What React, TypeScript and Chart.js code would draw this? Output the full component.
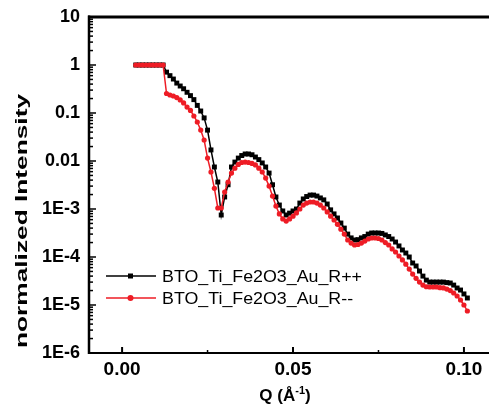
import React, { useEffect, useRef } from 'react';
import { Chart, registerables } from 'chart.js';

Chart.register(...registerables);

const qValues = [
  0.004, 0.005, 0.006, 0.007, 0.008, 0.009, 0.010, 0.011, 0.012, 0.013,
  0.014, 0.015, 0.016, 0.017, 0.018, 0.019, 0.020, 0.021, 0.022, 0.023,
  0.024, 0.025, 0.026, 0.027, 0.028, 0.029, 0.030, 0.031, 0.032, 0.033,
  0.034, 0.035, 0.036, 0.037, 0.038, 0.039, 0.040, 0.041, 0.042, 0.043,
  0.044, 0.045, 0.046, 0.047, 0.048, 0.049, 0.050, 0.051, 0.052, 0.053,
  0.054, 0.055, 0.056, 0.057, 0.058, 0.059, 0.060, 0.061, 0.062, 0.063,
  0.064, 0.065, 0.066, 0.067, 0.068, 0.069, 0.070, 0.071, 0.072, 0.073,
  0.074, 0.075, 0.076, 0.077, 0.078, 0.079, 0.080, 0.081, 0.082, 0.083,
  0.084, 0.085, 0.086, 0.087, 0.088, 0.089, 0.090, 0.091, 0.092, 0.093,
  0.094, 0.095, 0.096, 0.097, 0.098, 0.099, 0.100, 0.101,
];

const intensityRpp = [
  1, 1, 1, 1, 1, 1, 1, 1, 1, 0.71,
  0.60, 0.51, 0.42, 0.365, 0.32, 0.27, 0.23, 0.19, 0.144, 0.11,
  0.079, 0.044, 0.017, 0.0075, 0.00365, 0.00075, 0.00178, 0.0032, 0.0075, 0.0095,
  0.0115, 0.013, 0.014, 0.014, 0.0135, 0.0121, 0.0107, 0.0091, 0.0075, 0.0056,
  0.0032, 0.00178, 0.00121, 0.00091, 0.00075, 0.00082, 0.00091, 0.001, 0.00133, 0.00162,
  0.00182, 0.00195, 0.00195, 0.00186, 0.0017, 0.00155, 0.00127, 0.00096, 0.00079, 0.00065,
  0.00051, 0.0004, 0.0003, 0.00025, 0.000226, 0.00023, 0.00025, 0.000267, 0.0003, 0.000316,
  0.000316, 0.000316, 0.00031, 0.000288, 0.000267, 0.000237, 0.000205, 0.00017, 0.00014, 0.000121,
  0.0001, 7.5e-5, 6.5e-5, 5.1e-5, 4.0e-5, 3.3e-5, 3.0e-5, 3.0e-5, 3.0e-5, 3.0e-5,
  3.0e-5, 2.93e-5, 2.87e-5, 2.6e-5, 2.26e-5, 2.05e-5, 1.7e-5, 1.4e-5,
];

const intensityRmm = [
  1, 1, 1, 1, 1, 1, 1, 1, 1, 0.255,
  0.237, 0.226, 0.21, 0.187, 0.162, 0.133, 0.113, 0.0866, 0.065, 0.044,
  0.0274, 0.0115, 0.0059, 0.0027, 0.00105, 0.00105, 0.00226, 0.00365, 0.0056, 0.0071,
  0.0085, 0.0093, 0.0095, 0.0093, 0.0089, 0.0083, 0.0071, 0.0059, 0.0044, 0.003,
  0.00186, 0.00115, 0.00079, 0.00062, 0.00056, 0.00062, 0.00071, 0.00083, 0.001, 0.00121,
  0.00133, 0.0014, 0.0014, 0.00133, 0.00121, 0.00105, 0.00087, 0.00071, 0.00059, 0.00048,
  0.00038, 0.0003, 0.000226, 0.000195, 0.000178, 0.000182, 0.000195, 0.000215, 0.000237, 0.000249,
  0.000249, 0.000243, 0.000226, 0.0002, 0.000178, 0.000147, 0.000127, 0.000105, 8.7e-5, 7.1e-5,
  5.6e-5, 4.4e-5, 3.6e-5, 3.0e-5, 2.6e-5, 2.4e-5, 2.37e-5, 2.37e-5, 2.37e-5, 2.3e-5,
  2.27e-5, 2.15e-5, 2.0e-5, 1.78e-5, 1.54e-5, 1.27e-5, 1.0e-5, 7.5e-6,
];

const seriesNames = ['BTO_Ti_Fe2O3_Au_R++', 'BTO_Ti_Fe2O3_Au_R--'];
const seriesColors = ['#000000', '#ee1c25'];

const yTickValues = [1e-6, 1e-5, 1e-4, 1e-3, 0.01, 0.1, 1, 10];
const yTickLabels = ['1E-6', '1E-5', '1E-4', '1E-3', '0.01', '0.1', '1', '10'];
const xTickValues = [0, 0.05, 0.1];
const xTickLabels = ['0.00', '0.05', '0.10'];
const xMinorTicks = [0.025, 0.075];
const yAxisTitle = 'normalized Intensity';
const xAxisTitleMain = 'Q (Å';
const xAxisTitleSup = '-1';
const xAxisTitleEnd = ')';

const FONT = '"Liberation Sans", Arial, sans-serif';

const decorPlugin = {
  id: 'decor',
  afterDraw(chart: any) {
    const { ctx, chartArea } = chart;
    const xs = chart.scales.x;
    const ys = chart.scales.y;
    const { left, top, bottom } = chartArea;
    const fullRight = chart.width;
    ctx.save();
    ctx.strokeStyle = '#000';
    ctx.fillStyle = '#000';

    // frame: left, bottom, top
    ctx.lineWidth = 2.5;
    ctx.beginPath();
    ctx.moveTo(left, top - 1.5);
    ctx.lineTo(left, bottom + 1);
    ctx.stroke();
    ctx.lineWidth = 2;
    ctx.beginPath();
    ctx.moveTo(left - 1, bottom);
    ctx.lineTo(fullRight, bottom);
    ctx.stroke();
    ctx.lineWidth = 3;
    ctx.beginPath();
    ctx.moveTo(left - 1, top);
    ctx.lineTo(fullRight, top);
    ctx.stroke();

    // y ticks (inside)
    ctx.lineWidth = 1.5;
    for (let e = -6; e <= 1; e++) {
      for (let k = 1; k <= 9; k++) {
        const v = k * Math.pow(10, e);
        if (v > 10.0001) break;
        const p = ys.getPixelForValue(v);
        const len = k === 1 ? 7 : 4;
        ctx.beginPath();
        ctx.moveTo(left, p);
        ctx.lineTo(left + len, p);
        ctx.stroke();
      }
    }
    // x ticks (inside)
    ctx.lineWidth = 2;
    xTickValues.forEach((v) => {
      const p = xs.getPixelForValue(v);
      ctx.beginPath();
      ctx.moveTo(p, bottom);
      ctx.lineTo(p, bottom - 6);
      ctx.stroke();
    });
    ctx.lineWidth = 1.5;
    xMinorTicks.forEach((v) => {
      const p = xs.getPixelForValue(v);
      ctx.beginPath();
      ctx.moveTo(p, bottom);
      ctx.lineTo(p, bottom - 3);
      ctx.stroke();
    });

    // y axis title (stretched)
    ctx.save();
    ctx.font = `bold 17px ${FONT}`;
    const w = ctx.measureText(yAxisTitle).width;
    const sx = 254 / w;
    ctx.translate(22, 221);
    ctx.rotate(-Math.PI / 2);
    ctx.scale(sx, 1);
    ctx.textAlign = 'center';
    ctx.textBaseline = 'middle';
    ctx.fillText(yAxisTitle, 0, 0);
    ctx.restore();

    // x axis title with superscript
    ctx.save();
    ctx.textBaseline = 'alphabetic';
    ctx.textAlign = 'left';
    const mainFont = `bold 17px ${FONT}`;
    const supFont = `bold 11px ${FONT}`;
    ctx.font = mainFont;
    const w1 = ctx.measureText(xAxisTitleMain).width;
    const w3 = ctx.measureText(xAxisTitleEnd).width;
    ctx.font = supFont;
    const w2 = ctx.measureText(xAxisTitleSup).width;
    const total = w1 + w2 + w3;
    let cx = 285 - total / 2;
    const base = 401;
    ctx.font = mainFont;
    ctx.fillText(xAxisTitleMain, cx, base);
    cx += w1;
    ctx.font = supFont;
    ctx.fillText(xAxisTitleSup, cx, base - 7);
    cx += w2;
    ctx.font = mainFont;
    ctx.fillText(xAxisTitleEnd, cx, base);
    ctx.restore();

    // legend
    const legendY = [276, 298];
    chart.data.datasets.forEach((ds: any, i: number) => {
      const y = legendY[i];
      ctx.strokeStyle = ds.borderColor;
      ctx.fillStyle = ds.borderColor;
      ctx.lineWidth = 1.5;
      ctx.beginPath();
      ctx.moveTo(106, y);
      ctx.lineTo(156, y);
      ctx.stroke();
      if (ds.pointStyle === 'rect') {
        ctx.fillRect(128, y - 2.5, 5, 5);
      } else {
        ctx.beginPath();
        ctx.arc(130.5, y, 3, 0, Math.PI * 2);
        ctx.fill();
      }
      ctx.save();
      ctx.fillStyle = '#000';
      ctx.font = `17px ${FONT}`;
      ctx.textAlign = 'left';
      ctx.textBaseline = 'middle';
      const tw = ctx.measureText(seriesNames[0]).width;
      const s = 200 / tw;
      ctx.translate(162, y + 1);
      ctx.scale(s, 1);
      ctx.fillText(ds.label, 0, 0);
      ctx.restore();
    });

    ctx.restore();
  },
};

export default function App() {
  const canvasRef = useRef<HTMLCanvasElement | null>(null);

  useEffect(() => {
    const canvas = canvasRef.current;
    if (!canvas) return;
    const chart = new Chart(canvas, {
      type: 'line',
      data: {
        datasets: [
          {
            label: seriesNames[0],
            data: qValues.map((q, i) => ({ x: q, y: intensityRpp[i] })),
            borderColor: seriesColors[0],
            backgroundColor: seriesColors[0],
            pointBackgroundColor: seriesColors[0],
            pointBorderWidth: 0,
            pointStyle: 'rect',
            pointRadius: 3.5,
            borderWidth: 1.5,
            tension: 0,
            order: 1,
          },
          {
            label: seriesNames[1],
            data: qValues.map((q, i) => ({ x: q, y: intensityRmm[i] })),
            borderColor: seriesColors[1],
            backgroundColor: seriesColors[1],
            pointBackgroundColor: seriesColors[1],
            pointBorderWidth: 0,
            pointStyle: 'circle',
            pointRadius: 2.6,
            borderWidth: 1.5,
            tension: 0,
            order: 0,
          },
        ],
      },
      options: {
        responsive: false,
        animation: false,
        devicePixelRatio: 1,
        layout: { padding: { top: 17, right: 0, left: 0, bottom: 0 } },
        plugins: {
          legend: { display: false },
          tooltip: { enabled: false },
          title: { display: false },
        },
        scales: {
          x: {
            type: 'linear',
            min: -0.00968,
            max: 0.10616,
            grid: { display: false, drawTicks: false },
            border: { display: false },
            afterBuildTicks: (scale: any) => {
              scale.ticks = xTickValues.map((v) => ({ value: v }));
            },
            afterFit: (scale: any) => {
              scale.height = 59;
              scale.paddingLeft = 0;
              scale.paddingRight = 0;
            },
            ticks: {
              padding: 5,
              color: '#000',
              maxRotation: 0,
              font: { family: FONT, size: 19, weight: 'bold' },
              callback: (value: any) => {
                const idx = xTickValues.findIndex((v) => Math.abs(v - Number(value)) < 1e-9);
                return idx >= 0 ? xTickLabels[idx] : '';
              },
            },
          },
          y: {
            type: 'logarithmic',
            min: 1e-6,
            max: 10,
            grid: { display: false, drawTicks: false },
            border: { display: false },
            afterBuildTicks: (scale: any) => {
              scale.ticks = yTickValues.map((v) => ({ value: v }));
            },
            afterFit: (scale: any) => {
              scale.width = 89;
              scale.paddingTop = 0;
              scale.paddingBottom = 0;
            },
            ticks: {
              padding: 9,
              color: '#000',
              font: { family: FONT, size: 18, weight: 'bold' },
              callback: (value: any) => {
                const idx = yTickValues.findIndex((v) => Math.abs(Math.log10(v) - Math.log10(Number(value))) < 1e-6);
                return idx >= 0 ? yTickLabels[idx] : '';
              },
            },
          },
        },
      },
      plugins: [decorPlugin],
    });
    return () => chart.destroy();
  }, []);

  return (
    <div style={{ position: 'fixed', left: 0, top: 0, width: 489, height: 412, background: '#fff' }}>
      <canvas ref={canvasRef} width={489} height={412} style={{ display: 'block', width: 489, height: 412 }} />
    </div>
  );
}
